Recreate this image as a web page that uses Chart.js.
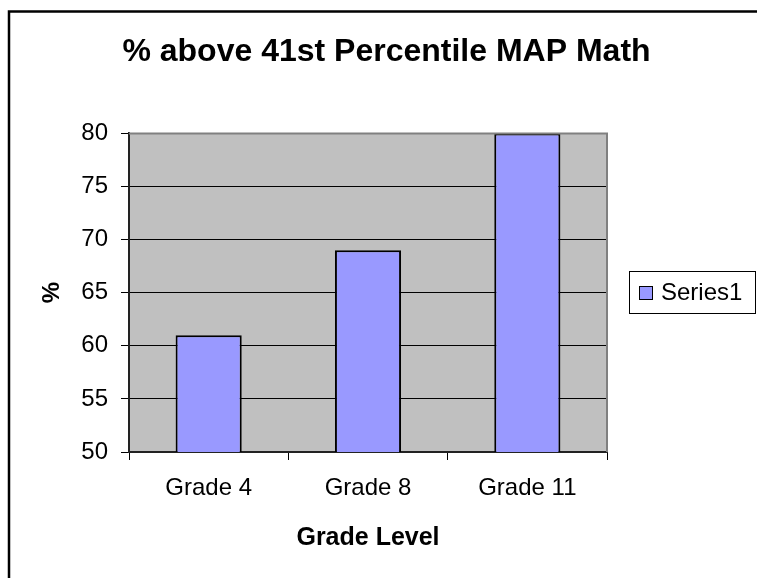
<!DOCTYPE html>
<html>
<head>
<meta charset="utf-8">
<script src="https://cdn.jsdelivr.net/npm/chart.js@4/dist/chart.umd.min.js"></script>
<style>
  html, body { margin: 0; padding: 0; background: #fff; }
  #container { width: 757px; height: 578px; }
</style>
</head>
<body>
<div id="container"><canvas id="myChart"></canvas></div>
<script>
const grades = ['Grade 4', 'Grade 8', 'Grade 11'];
const pctAbove = [61, 69, 80];
const seriesName = 'Series1';
const yTicks = [50, 55, 60, 65, 70, 75, 80];

const FONT = "'Liberation Sans', Arial, sans-serif";

// gray plot area, outer frame and the framed legend, Excel style
const excelLook = {
    id: 'excelLook',
    beforeDraw(chart) {
        const ctx = chart.ctx;
        const a = chart.chartArea;
        ctx.save();
        ctx.fillStyle = '#fff';
        ctx.fillRect(0, 0, chart.width, chart.height);
        ctx.strokeStyle = '#000';
        ctx.lineWidth = 2.5;
        ctx.strokeRect(9, 11.5, chart.width + 20, chart.height + 20);
        ctx.fillStyle = '#C0C0C0';
        ctx.fillRect(a.left, a.top, a.right - a.left, a.bottom - a.top);
        ctx.restore();
    },
    afterDraw(chart) {
        const ctx = chart.ctx;
        const a = chart.chartArea;
        ctx.save();
        ctx.strokeStyle = '#808080';
        ctx.lineWidth = 2;
        ctx.beginPath();
        ctx.moveTo(a.left, a.top);
        ctx.lineTo(a.right, a.top);
        ctx.lineTo(a.right, a.bottom);
        ctx.stroke();

        // legend
        const ds = chart.data.datasets[0];
        const lx = 629, ly = 271, lw = 126, lh = 42;
        ctx.fillStyle = '#fff';
        ctx.fillRect(lx, ly, lw, lh);
        ctx.strokeStyle = '#000';
        ctx.lineWidth = 1;
        ctx.strokeRect(lx + 0.5, ly + 0.5, lw, lh);
        ctx.fillStyle = ds.backgroundColor;
        ctx.fillRect(639, 286, 13, 13);
        ctx.strokeRect(639.5, 286.5, 13, 13);
        ctx.fillStyle = '#000';
        ctx.font = '24px ' + FONT;
        ctx.textBaseline = 'middle';
        ctx.fillText(ds.label, 661, 293);
        ctx.restore();
    }
};

new Chart(document.getElementById('myChart').getContext('2d'), {
    type: 'bar',
    data: {
        labels: grades,
        datasets: [{
            label: seriesName,
            data: pctAbove,
            backgroundColor: '#9999FF',
            borderColor: '#000',
            borderWidth: 2,
            borderSkipped: false,
            barPercentage: 0.415,
            categoryPercentage: 1
        }]
    },
    options: {
        responsive: true,
        maintainAspectRatio: false,
        animation: false,
        devicePixelRatio: 1,
        layout: { padding: { left: 16, right: 0, top: 0, bottom: 0 } },
        plugins: {
            legend: { display: false },
            tooltip: { enabled: false },
            title: {
                display: true,
                text: '% above 41st Percentile MAP Math',
                color: '#000',
                font: { family: FONT, size: 32, weight: 'bold' },
                padding: { top: 33, bottom: 62 }
            }
        },
        scales: {
            x: {
                offset: true,
                grid: { offset: true, drawOnChartArea: false, drawTicks: true, tickLength: 8, color: '#000' },
                border: { color: '#222', width: 2 },
                ticks: { color: '#000', font: { family: FONT, size: 24 }, padding: 14, maxRotation: 0 },
                title: {
                    display: true, text: 'Grade Level', color: '#000',
                    font: { family: FONT, size: 25, weight: 'bold' },
                    padding: { top: 0, bottom: 25 }
                },
                afterFit(scale) { scale.height = 126; }
            },
            y: {
                min: 50,
                max: 80,
                afterBuildTicks(scale) { scale.ticks = yTicks.map(v => ({ value: v })); },
                grid: { color: '#000', lineWidth: 1, tickLength: 8 },
                border: { color: '#222', width: 2 },
                ticks: { color: '#000', font: { family: FONT, size: 24 }, padding: 13 },
                title: {
                    display: true, text: '%', color: '#000',
                    font: { family: FONT, size: 24, weight: 'bold' },
                    padding: { top: 22, bottom: 0 }
                },
                afterFit(scale) { scale.width = 113; }
            },
            // empty band on the right that holds the legend
            legendBand: {
                type: 'linear',
                position: 'right',
                display: true,
                grid: { display: false },
                border: { display: false },
                ticks: { display: false },
                afterFit(scale) { scale.width = 150; }
            }
        }
    },
    plugins: [excelLook]
});
</script>
</body>
</html>
